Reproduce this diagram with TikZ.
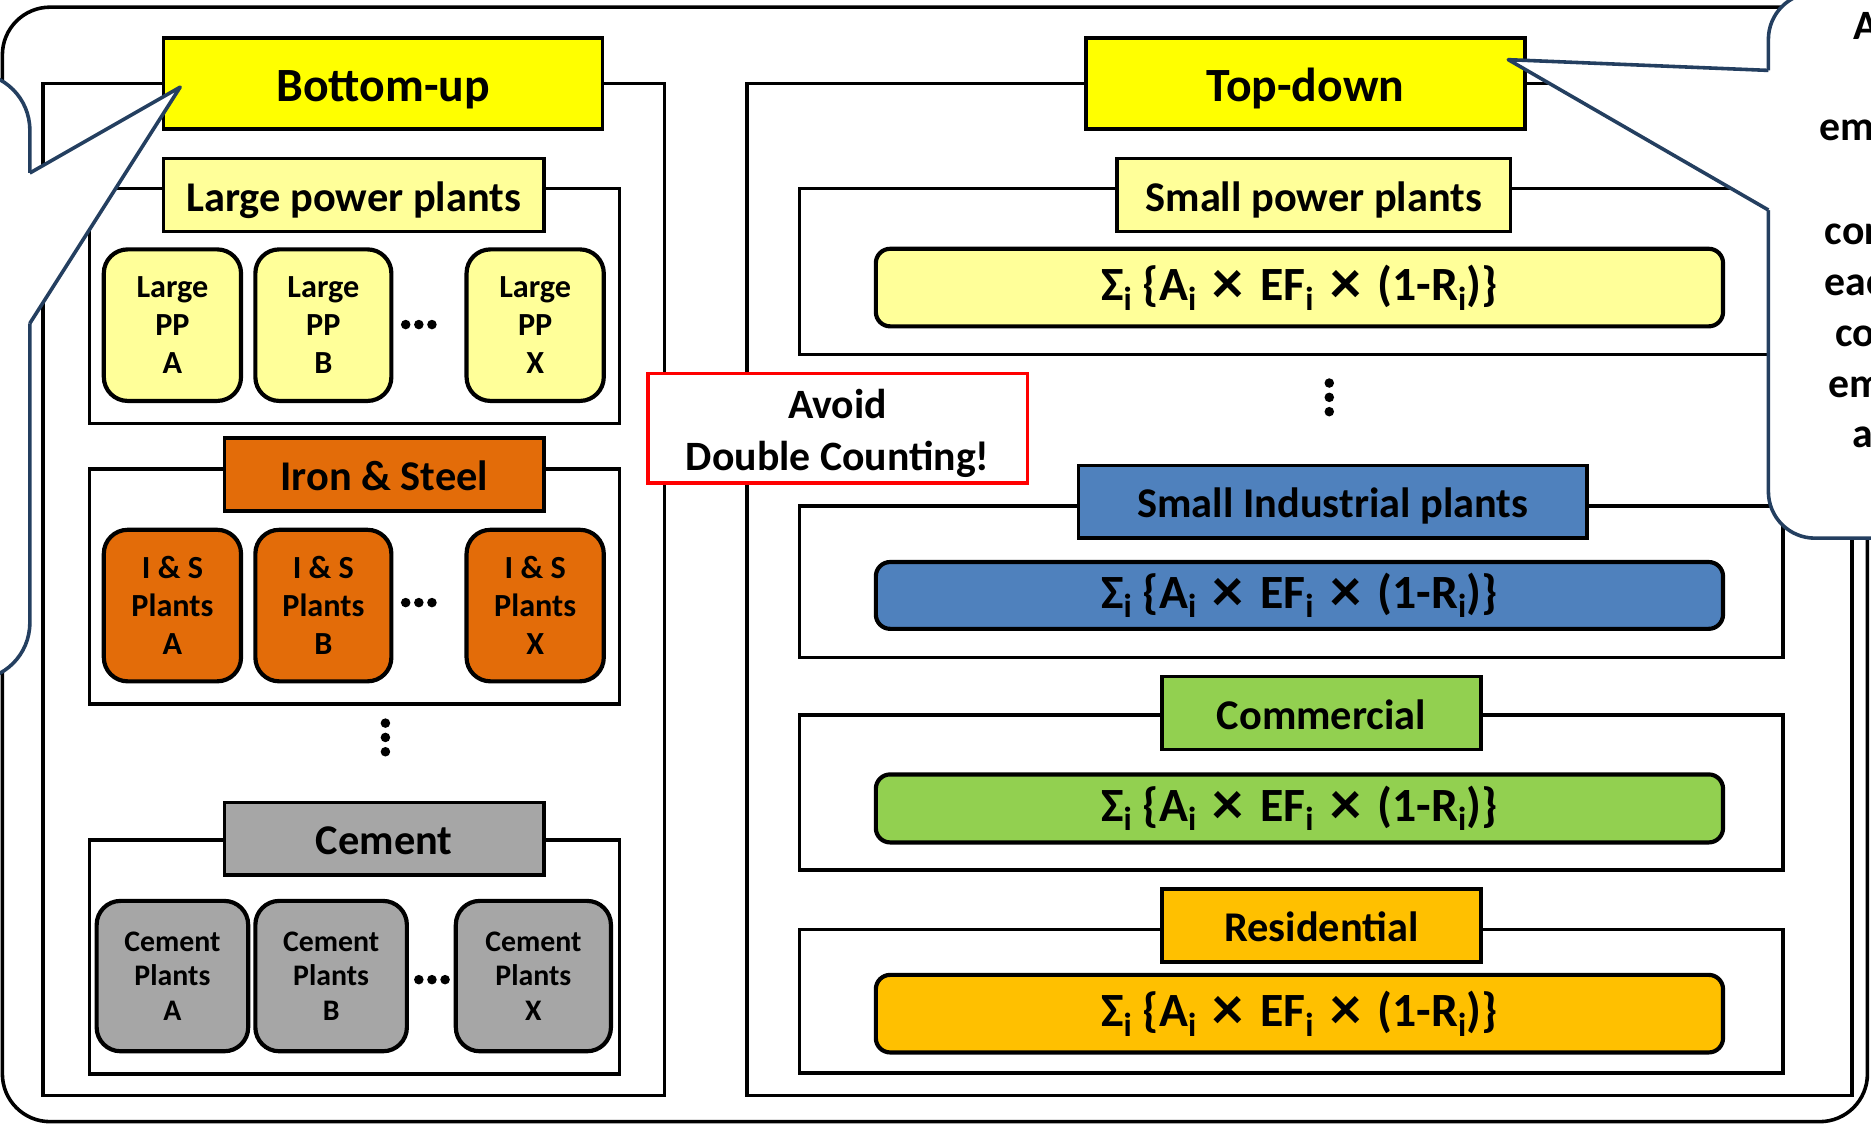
\documentclass[tikz,border=0pt]{standalone}
\usepackage{fontspec}
\usepackage{graphicx}
\setmainfont{Carlito}

\definecolor{titleyellow}{HTML}{FFFF00}
\definecolor{paleyellow}{HTML}{FFFF99}
\definecolor{steelorange}{HTML}{E36C09}
\definecolor{cementgray}{HTML}{A6A6A6}
\definecolor{indblue}{HTML}{4F81BD}
\definecolor{commgreen}{HTML}{92D050}
\definecolor{resgold}{HTML}{FFC000}
\definecolor{calloutnavy}{HTML}{243F60}
\definecolor{alertred}{HTML}{FF0000}

% lowered subscript index and enlarged times sign used in the emission formula
\newcommand{\lowi}{\raisebox{-0.2em}{\fontsize{28}{28}\selectfont i}}
\newcommand{\bigtimes}{\hspace{0.12em}\raisebox{-0.07em}{\scalebox{1.3}{×}}\hspace{0.12em}}
\newcommand{\emisformula}{Σ\lowi\ \{A\lowi\ \bigtimes\ EF\lowi\ \bigtimes\ (1-R\lowi)\}}

\begin{document}
\begin{tikzpicture}[x=1pt,y=-1pt,
  frame/.style={draw=black, line width=3pt},
  headbox/.style={draw=black, line width=3pt, inner sep=0pt, minimum height=61pt,
    text height=27pt, text depth=0pt,
    font=\bfseries\fontsize{35.5}{42}\selectfont},
  mainhead/.style={headbox, fill=titleyellow, minimum width=368pt, minimum height=76pt,
    text height=30pt, font=\bfseries\fontsize{40}{48}\selectfont},
  plantbox/.style={draw=black, line width=3.5pt, rounded corners=20pt, inner sep=0pt,
    align=center, minimum height=127pt, font=\bfseries\fontsize{27}{32}\selectfont},
  cementbox/.style={plantbox, fill=cementgray, minimum height=126pt, minimum width=127pt,
    font=\bfseries\fontsize{25}{29}\selectfont},
  sumbox/.style={draw=black, line width=3.5pt, rounded corners=12pt, inner sep=0pt,
    minimum width=710pt, font=\bfseries\fontsize{40}{44}\selectfont},
  dotmark/.style={circle, fill=black, inner sep=0pt, minimum size=8pt},
  callout/.style={draw=calloutnavy, fill=white, line width=3pt},
  calloutline/.style={draw=calloutnavy, line width=3pt, line join=round},
  bubbletext/.style={anchor=base west, inner sep=0pt, font=\bfseries\fontsize{35}{42}\selectfont},
]
\useasboundingbox (0,0) rectangle (1568,942);
\fill[white] (0,0) rectangle (1568,942);

% outer border
\draw[line width=3pt, rounded corners=40pt] (2,6) rectangle (1565,940);

% approach frames
\draw[frame] (36,70) rectangle (557,918);
\draw[frame] (626,70) rectangle (1552,918);

% bottom-up sector frames
\draw[frame] (75,158) rectangle (519,355);
\draw[frame] (75,393) rectangle (519,590);
\draw[frame] (75,704) rectangle (519,900);

% top-down sector frames
\draw[frame] (670,158) rectangle (1494,297);
\draw[frame] (670,424) rectangle (1494,551);
\draw[frame] (670,599) rectangle (1494,729);
\draw[frame] (670,779) rectangle (1494,899);

% headings
\node[mainhead] (bottomup) at (321,70) {Bottom-up};
\node[mainhead] (topdown) at (1094,70) {Top-down};

\node[headbox, fill=paleyellow, minimum width=319pt] (lpp) at (296.5,163.5) {Large power plants};
\node[headbox, fill=steelorange, minimum width=268pt] (ironsteel) at (322,397.5) {Iron \& Steel};
\node[headbox, fill=cementgray, minimum width=268pt] (cement) at (322,703) {Cement};

\node[headbox, fill=paleyellow, minimum width=330pt] (spp) at (1101,163.5) {Small power plants};
\node[headbox, fill=indblue, minimum width=426pt] (sip) at (1117,420.5) {Small Industrial plants};
\node[headbox, fill=commgreen, minimum width=267pt] (comm) at (1107.5,597.5) {Commercial};
\node[headbox, fill=resgold, minimum width=267pt] (resi) at (1107.5,775.5) {Residential};

% large power plants
\node[plantbox, fill=paleyellow, minimum width=115pt] (lppa) at (144.5,272.5) {Large\\PP\\A};
\node[plantbox, fill=paleyellow, minimum width=114pt] (lppb) at (271,272.5) {Large\\PP\\B};
\node[plantbox, fill=paleyellow, minimum width=115pt] (lppx) at (448.5,272.5) {Large\\PP\\X};

% iron and steel plants
\node[plantbox, fill=steelorange, minimum width=115pt] (isa) at (144.5,507.5) {I \& S\\Plants\\A};
\node[plantbox, fill=steelorange, minimum width=114pt] (isb) at (271,507.5) {I \& S\\Plants\\B};
\node[plantbox, fill=steelorange, minimum width=115pt] (isx) at (448.5,507.5) {I \& S\\Plants\\X};

% cement plants
\node[cementbox] (cema) at (144.5,818) {Cement\\Plants\\A};
\node[cementbox] (cemb) at (277.5,818) {Cement\\Plants\\B};
\node[cementbox, minimum width=130pt] (cemx) at (447,818) {Cement\\Plants\\X};

% continuation marks
\foreach \cx/\cy [count=\k] in {351/272, 351/505, 362/821} {
  \node[dotmark] (hdot\k a) at (\cx-11,\cy) {};
  \node[dotmark] (hdot\k b) at (\cx,\cy) {};
  \node[dotmark] (hdot\k c) at (\cx+11,\cy) {};
}
\foreach \cx/\cy [count=\k] in {323/618, 1114/333} {
  \node[dotmark] (vdot\k a) at (\cx,\cy-12) {};
  \node[dotmark] (vdot\k b) at (\cx,\cy) {};
  \node[dotmark] (vdot\k c) at (\cx,\cy+12) {};
}

% top-down emission formulas
\node[sumbox, fill=paleyellow, minimum height=65pt] (fspp) at (1089,241) {\emisformula};
\node[sumbox, fill=indblue, minimum height=56pt] (fsip) at (1089,499) {\emisformula};
\node[sumbox, fill=commgreen, minimum height=57pt] (fcomm) at (1089,677.5) {\emisformula};
\node[sumbox, fill=resgold, minimum height=65pt] (fresi) at (1089,849.5) {\emisformula};

% warning box
\node[draw=alertred, fill=white, line width=3pt, minimum width=318pt, minimum height=92pt,
  align=center, inner sep=0pt, font=\bfseries\fontsize{35}{43}\selectfont] (avoid) at (702,359)
  {\rule{0pt}{33pt}Avoid\\Double Counting!};

% left callout bubble
\coordinate (lefttip) at (151,73);
\coordinate (leftup) at (25,145);
\coordinate (leftlow) at (25,271);
\draw[callout, rounded corners=48pt] (-300,61) rectangle (25,570);
\fill[white] (20,145) -- (leftup) -- (lefttip) -- (leftlow) -- (20,271) -- cycle;
\draw[calloutline] (leftup) -- (lefttip) -- (leftlow);

% right callout bubble
\coordinate (righttip) at (1264,50);
\coordinate (rightup) at (1482,59);
\coordinate (rightlow) at (1482,176);
\draw[callout, rounded corners=39pt] (1482,-6) rectangle (1900,451);
\fill[white] (1487,59) -- (rightup) -- (righttip) -- (rightlow) -- (1487,176) -- cycle;
\draw[calloutline] (rightup) -- (righttip) -- (rightlow);

% right callout text
\node[bubbletext] (rt1) at (1553,33) {A};
\node[bubbletext] (rt2) at (1525,118) {em};
\node[bubbletext] (rt3) at (1529,205) {cor};
\node[bubbletext] (rt4) at (1529,248) {eac};
\node[bubbletext] (rt5) at (1538,290) {co};
\node[bubbletext] (rt6) at (1532,333) {em};
\node[bubbletext] (rt7) at (1552,375) {a};
\end{tikzpicture}
\end{document}
